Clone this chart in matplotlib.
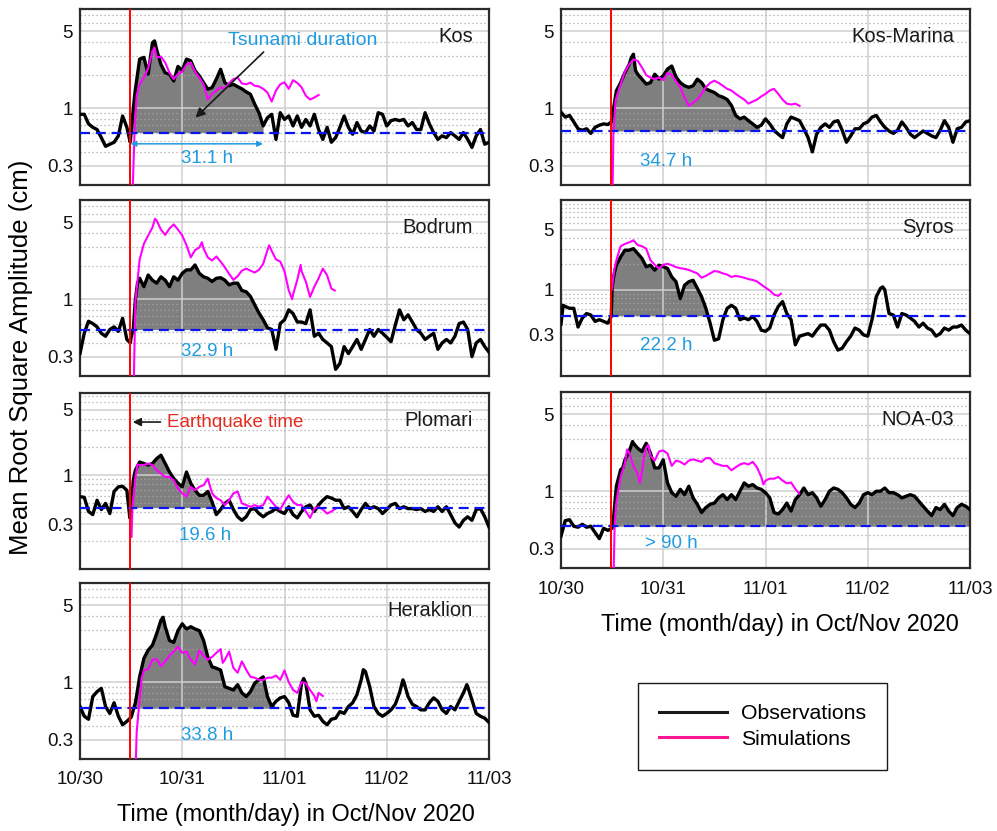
import numpy as np
import matplotlib
matplotlib.use("Agg")
import matplotlib.pyplot as plt
from matplotlib.lines import Line2D
from matplotlib.ticker import LogLocator, NullFormatter

plt.rcParams['font.family'] = ['Liberation Sans', 'DejaVu Sans']

# time axis: hours after 2020-10-30 00:00
EQ_TIME = 11.85
HOURS = list(range(97))
DAY_TICKS = [0, 24, 48, 72, 96]
DAY_LABELS = ['10/30', '10/31', '11/01', '11/02', '11/03']

# ---- observations (hourly values, cm) + extra points around sharp features ----
KOS_OBS = [0.88, 0.88, 0.72, 0.67, 0.64, 0.54, 0.45, 0.47, 0.49, 0.56, 0.85, 0.67,
           0.60, 1.49, 2.80, 2.90, 2.04, 3.95, 3.40, 2.50, 2.10, 2.04, 1.77, 2.40,
           2.20, 2.80, 2.70, 2.20, 1.97, 1.71, 1.49, 1.54, 1.84, 2.26, 1.71, 1.60,
           1.65, 1.57, 1.50, 1.41, 1.34, 1.09, 0.91, 0.69, 0.82, 0.88, 0.52, 0.91,
           0.79, 0.85, 0.69, 0.85, 0.67, 0.79, 0.69, 0.88, 0.64, 0.52, 0.67, 0.49,
           0.54, 0.67, 0.85, 0.67, 0.58, 0.74, 0.62, 0.60, 0.69, 0.62, 0.91, 0.88,
           0.69, 0.77, 0.79, 0.77, 0.79, 0.69, 0.74, 0.64, 0.64, 0.91, 0.72, 0.60,
           0.52, 0.56, 0.54, 0.60, 0.56, 0.52, 0.60, 0.52, 0.44, 0.56, 0.64, 0.47,
           0.49]
KOS_EXTRA_T = [11.8, 12.5, 17.5]
KOS_EXTRA_V = [0.49, 0.98, 4.1]

BODRUM_OBS = [0.32, 0.49, 0.63, 0.60, 0.56, 0.49, 0.46, 0.53, 0.56, 0.51, 0.67, 0.43,
              0.45, 0.99, 1.55, 1.30, 1.66, 1.49, 1.40, 1.60, 1.49, 1.30, 1.60, 1.49,
              1.72, 1.85, 1.85, 2.05, 1.72, 1.60, 1.55, 1.45, 1.55, 1.57, 1.49, 1.35,
              1.40, 1.40, 1.20, 1.17, 1.06, 0.89, 0.75, 0.65, 0.55, 0.53, 0.35, 0.60,
              0.65, 0.80, 0.74, 0.62, 0.62, 0.60, 0.80, 0.46, 0.49, 0.43, 0.40, 0.37,
              0.23, 0.26, 0.37, 0.32, 0.37, 0.43, 0.35, 0.43, 0.53, 0.46, 0.53, 0.49,
              0.45, 0.41, 0.58, 0.80, 0.65, 0.72, 0.62, 0.53, 0.49, 0.43, 0.46, 0.49,
              0.35, 0.40, 0.43, 0.40, 0.46, 0.60, 0.62, 0.53, 0.30, 0.40, 0.43, 0.37,
              0.33]
BODRUM_EXTRA_T = [11.8, 12.5, 13.5]
BODRUM_EXTRA_V = [0.40, 0.53, 1.40]

PLOMARI_OBS = [0.59, 0.58, 0.41, 0.38, 0.54, 0.43, 0.50, 0.39, 0.67, 0.75, 0.76, 0.69,
               0.40, 1.13, 1.38, 1.33, 1.28, 1.33, 1.50, 1.63, 1.33, 1.08, 0.92, 0.82,
               0.75, 1.08, 0.82, 0.69, 0.61, 0.61, 0.67, 0.52, 0.38, 0.43, 0.50, 0.54,
               0.43, 0.36, 0.33, 0.36, 0.43, 0.44, 0.39, 0.36, 0.39, 0.41, 0.44, 0.41,
               0.39, 0.46, 0.38, 0.35, 0.41, 0.46, 0.48, 0.41, 0.48, 0.54, 0.59, 0.57,
               0.54, 0.54, 0.44, 0.46, 0.41, 0.36, 0.43, 0.50, 0.44, 0.46, 0.44, 0.39,
               0.43, 0.48, 0.50, 0.44, 0.46, 0.44, 0.44, 0.43, 0.44, 0.41, 0.43, 0.41,
               0.46, 0.41, 0.46, 0.38, 0.31, 0.28, 0.33, 0.36, 0.33, 0.43, 0.44, 0.36,
               0.28]
PLOMARI_EXTRA_T = [11.7, 12.5]
PLOMARI_EXTRA_V = [0.35, 0.88]

HERAKLION_OBS = [0.60, 0.49, 0.46, 0.74, 0.82, 0.88, 0.60, 0.52, 0.65, 0.49, 0.41, 0.44,
                 0.48, 0.65, 1.12, 1.65, 1.96, 2.17, 2.77, 3.66, 3.20, 2.40, 2.30, 2.95,
                 3.40, 3.05, 3.20, 3.05, 2.95, 2.40, 1.70, 1.38, 1.34, 1.29, 0.91, 0.88,
                 0.85, 0.95, 0.80, 0.74, 0.82, 0.98, 1.05, 1.12, 0.74, 0.60, 0.67, 0.72,
                 0.74, 0.65, 0.50, 0.49, 0.98, 0.98, 0.56, 0.49, 0.50, 0.44, 0.41, 0.46,
                 0.47, 0.54, 0.52, 0.60, 0.65, 0.77, 1.05, 1.25, 0.91, 0.60, 0.52, 0.49,
                 0.52, 0.56, 0.63, 0.80, 1.01, 0.74, 0.63, 0.60, 0.56, 0.56, 0.65, 0.72,
                 0.67, 0.56, 0.52, 0.60, 0.56, 0.67, 0.80, 0.91, 0.69, 0.52, 0.49, 0.47,
                 0.43]
HERAKLION_EXTRA_T = [13.5, 19.5, 52.5, 66.5, 75.8, 90.8]
HERAKLION_EXTRA_V = [0.85, 3.9, 1.08, 1.30, 1.05, 0.95]

KOSMARINA_OBS = [0.92, 0.83, 0.86, 0.75, 0.65, 0.63, 0.65, 0.59, 0.67, 0.70, 0.72, 0.71,
                 0.82, 1.44, 1.71, 2.11, 2.50, 3.10, 2.04, 1.84, 1.66, 1.71, 2.04, 1.84,
                 1.97, 2.27, 2.42, 1.92, 1.71, 1.60, 1.55, 1.60, 1.84, 1.71, 1.50, 1.44,
                 1.39, 1.30, 1.26, 1.20, 1.06, 0.86, 0.80, 0.83, 0.77, 0.72, 0.67, 0.70,
                 0.80, 0.72, 0.63, 0.58, 0.54, 0.72, 0.83, 0.80, 0.77, 0.65, 0.54, 0.40,
                 0.58, 0.67, 0.72, 0.67, 0.75, 0.77, 0.63, 0.49, 0.56, 0.65, 0.65, 0.72,
                 0.75, 0.83, 0.86, 0.75, 0.67, 0.62, 0.59, 0.63, 0.75, 0.67, 0.58, 0.54,
                 0.58, 0.62, 0.59, 0.56, 0.54, 0.63, 0.77, 0.67, 0.49, 0.65, 0.67, 0.75,
                 0.77]
KOSMARINA_EXTRA_T = [11.8, 16.5, 17.5]
KOSMARINA_EXTRA_V = [0.75, 2.88, 2.20]

SYROS_OBS = [0.40, 0.64, 0.61, 0.61, 0.37, 0.47, 0.53, 0.51, 0.43, 0.45, 0.43, 0.41,
             1.08, 1.93, 2.41, 2.88, 2.88, 3.00, 2.64, 2.31, 1.85, 1.93, 1.69, 1.93,
             1.85, 1.77, 1.41, 1.24, 0.79, 1.13, 1.24, 1.29, 1.04, 0.83, 0.61, 0.41,
             0.26, 0.27, 0.45, 0.61, 0.66, 0.61, 0.45, 0.47, 0.45, 0.49, 0.43, 0.34,
             0.33, 0.36, 0.51, 0.64, 0.73, 0.53, 0.45, 0.23, 0.29, 0.30, 0.31, 0.29,
             0.34, 0.39, 0.39, 0.34, 0.25, 0.20, 0.21, 0.25, 0.29, 0.36, 0.34, 0.30,
             0.29, 0.45, 0.83, 1.04, 1.00, 0.53, 0.51, 0.37, 0.53, 0.51, 0.47, 0.43,
             0.37, 0.41, 0.36, 0.34, 0.29, 0.31, 0.36, 0.34, 0.37, 0.37, 0.39, 0.34,
             0.31]
SYROS_EXTRA_T = [0.5, 11.8, 12.5, 75.5]
SYROS_EXTRA_V = [0.66, 0.49, 1.55, 1.08]

NOA_OBS = [0.39, 0.54, 0.55, 0.48, 0.47, 0.50, 0.47, 0.48, 0.42, 0.37, 0.46, 0.44,
           0.46, 1.11, 1.57, 1.93, 2.30, 2.73, 2.46, 2.30, 2.73, 2.22, 1.63, 1.63,
           1.93, 1.19, 0.97, 0.90, 1.04, 0.93, 1.11, 0.87, 0.76, 0.64, 0.71, 0.76,
           0.78, 0.87, 0.93, 0.84, 0.93, 0.84, 1.00, 1.19, 1.11, 1.15, 1.07, 1.04,
           0.97, 0.87, 0.64, 0.62, 0.68, 0.78, 0.66, 0.84, 0.93, 1.07, 0.93, 0.97,
           0.87, 0.73, 0.84, 1.00, 1.07, 1.04, 0.97, 0.87, 0.76, 0.71, 0.78, 0.93,
           0.97, 0.93, 1.00, 1.00, 1.07, 0.97, 0.97, 0.93, 0.87, 0.90, 0.93, 0.90,
           0.81, 0.73, 0.66, 0.60, 0.71, 0.68, 0.76, 0.66, 0.60, 0.71, 0.76, 0.73,
           0.68]
NOA_EXTRA_T = [12.3, 14.5, 16.8]
NOA_EXTRA_V = [0.55, 1.63, 2.83]

# ---- simulations ----
KOS_SIM_T = [11.9, 12.4, 12.8, 13.3, 14, 15, 16, 17, 17.5, 18, 19, 20, 21, 22, 23, 24, 25,
             26, 27, 28, 29, 30, 31, 32, 33, 34, 35, 36, 37, 38, 39, 40, 41, 42, 43, 44,
             45, 46, 47, 48, 49, 50, 51, 52, 53, 54, 55, 56]
KOS_SIM_V = [0.05, 0.2, 0.6, 1.3, 1.65, 1.9, 2.3, 3.3, 3.55, 2.9, 2.95, 2.6, 2.1, 1.84,
             2.05, 2.15, 2.5, 2.6, 2.15, 1.9, 1.65, 1.2, 1.35, 1.45, 1.55, 1.5, 1.7, 1.84,
             1.9, 1.68, 1.65, 1.71, 1.6, 1.58, 1.5, 1.39, 1.15, 1.45, 1.65, 1.72, 1.5,
             1.8, 1.7, 1.55, 1.3, 1.2, 1.25, 1.32]

BODRUM_SIM_T = [12.5, 13, 14, 15, 16, 17, 17.6, 18, 19, 20, 21, 22, 23, 24, 25, 26, 27, 28,
                28.6, 29, 30, 31, 32, 33, 34, 35, 36, 37, 38, 39, 40, 41, 42, 43, 44, 44.4,
                45, 46, 47, 48, 49, 49.8, 50, 51, 51.8, 52, 53, 54, 55, 56, 57, 58, 59, 59.8]
BODRUM_SIM_V = [0.1, 0.95, 2.3, 3.2, 3.8, 4.5, 5.4, 5.2, 4.3, 3.85, 4.4, 4.8, 4.3, 3.8,
                3.1, 2.4, 2.8, 2.95, 3.3, 2.9, 2.4, 2.25, 2.45, 2.2, 1.95, 1.7, 1.5, 1.62,
                1.82, 1.9, 1.82, 1.75, 1.85, 2.1, 2.8, 3.1, 2.75, 2.3, 2.2, 1.8, 1.2, 1.0,
                1.1, 1.5, 2.05, 1.8, 1.45, 1.05, 1.3, 1.55, 1.9, 1.65, 1.25, 1.2]

PLOMARI_SIM_T = [12.1, 12.3, 13, 13.5, 14, 15, 16, 17, 18, 19, 20, 21, 22, 23, 24, 25, 26,
                 27, 28, 29, 30, 31, 32, 33, 34, 35, 36, 37, 38, 39, 40, 41, 42, 43, 44,
                 45, 46, 47, 48, 49, 50, 51, 52, 53, 54, 55, 56, 57, 58, 59, 60]
PLOMARI_SIM_V = [0.22, 0.45, 0.95, 1.3, 1.28, 1.28, 1.33, 1.28, 1.13, 1.04, 0.96, 0.96,
                 0.88, 0.72, 0.64, 0.59, 0.75, 0.69, 0.75, 0.78, 0.92, 0.64, 0.57, 0.54,
                 0.48, 0.54, 0.64, 0.67, 0.5, 0.48, 0.46, 0.48, 0.46, 0.48, 0.59, 0.52,
                 0.46, 0.43, 0.52, 0.61, 0.52, 0.48, 0.48, 0.41, 0.35, 0.44, 0.46, 0.43,
                 0.39, 0.41, 0.44]

HERAKLION_SIM_T = [12.9, 13.3, 14, 14.5, 15, 16, 17, 18, 19, 20, 21, 22, 23, 24, 25, 26,
                   27, 28, 29, 30, 31, 32, 33, 33.5, 34, 35, 36, 37, 38, 39, 40, 41, 42,
                   43, 44, 45, 46, 47, 48, 49, 50, 51, 52, 53, 54, 55, 55.5, 56, 57]
HERAKLION_SIM_V = [0.1, 0.35, 0.7, 1.1, 1.28, 1.32, 1.6, 1.62, 1.4, 1.55, 1.75, 1.9, 2.1,
                   1.85, 1.9, 1.6, 1.45, 1.95, 1.75, 1.6, 1.7, 1.85, 2.0, 1.5, 1.6, 1.9,
                   1.35, 1.22, 1.55, 1.3, 1.12, 1.1, 1.05, 1.05, 1.1, 1.1, 1.15, 1.05,
                   1.28, 1.0, 0.85, 0.8, 1.0, 0.98, 0.85, 0.75, 0.67, 0.8, 0.75]

KOSMARINA_SIM_T = [11.9, 12.3, 12.8, 13, 14, 15, 16, 17, 18, 19, 20, 21, 22, 23, 24, 25,
                   26, 27, 28, 29, 30, 31, 32, 33, 34, 35, 36, 37, 38, 39, 40, 41, 42, 43,
                   44, 45, 46, 47, 48, 49, 50, 51, 52, 53, 54, 55, 56]
KOSMARINA_SIM_V = [0.05, 0.6, 1.15, 1.25, 1.65, 2.15, 2.5, 2.78, 2.7, 2.35, 2.0, 1.9,
                   1.84, 1.9, 1.8, 2.1, 2.0, 1.75, 1.55, 1.25, 1.05, 1.12, 1.2, 1.35, 1.55,
                   1.7, 1.78, 1.7, 1.6, 1.5, 1.45, 1.35, 1.27, 1.2, 1.1, 1.15, 1.2, 1.28,
                   1.35, 1.45, 1.5, 1.35, 1.2, 1.1, 1.08, 1.1, 1.05]

SYROS_SIM_T = [11.9, 12.5, 13, 14, 15, 16, 17, 18, 19, 20, 21, 22, 23, 24, 25, 26, 27, 28,
               29, 30, 31, 32, 33, 34, 35, 36, 37, 38, 39, 40, 41, 42, 43, 44, 45, 46, 47,
               48, 49, 50, 51, 51.6]
SYROS_SIM_V = [1.0, 1.7, 2.2, 3.2, 3.4, 3.55, 3.75, 3.3, 3.2, 3.0, 2.2, 1.95, 1.77, 1.95,
               2.0, 1.93, 1.83, 1.78, 1.75, 1.7, 1.62, 1.55, 1.38, 1.45, 1.55, 1.65, 1.62,
               1.55, 1.5, 1.41, 1.45, 1.42, 1.38, 1.33, 1.3, 1.25, 1.15, 1.06, 0.98, 0.88,
               0.85, 0.9]

NOA_SIM_T = [12.2, 12.6, 13, 14, 15, 15.5, 16, 17, 18, 18.5, 19, 19.5, 20, 20.5, 21, 22,
             23, 24, 25, 26, 27, 28, 29, 30, 31, 32, 33, 34, 35, 36, 37, 38, 39, 40, 41,
             42, 43, 44, 45, 46, 47, 47.5, 48, 49, 50, 51, 52, 53, 54, 55, 55.9]
NOA_SIM_V = [0.1, 0.5, 0.8, 1.35, 1.8, 2.4, 2.25, 1.68, 1.45, 1.19, 1.5, 2.07, 2.5, 2.64,
             2.1, 1.9, 2.3, 2.35, 2.2, 1.7, 1.9, 1.85, 1.75, 1.9, 1.95, 1.9, 1.85, 2.0,
             2.0, 1.8, 1.75, 1.7, 1.7, 1.55, 1.65, 1.75, 1.8, 1.75, 1.85, 1.65, 1.35,
             1.15, 1.25, 1.3, 1.3, 1.35, 1.25, 1.18, 1.2, 1.05, 0.95]

# station: obs, extra t, extra v, sim t, sim v, threshold, duration (h), ylim, label
STATIONS = {
    'Kos': (KOS_OBS, KOS_EXTRA_T, KOS_EXTRA_V, KOS_SIM_T, KOS_SIM_V, 0.60, 31.1, (0.2, 8), '31.1 h'),
    'Bodrum': (BODRUM_OBS, BODRUM_EXTRA_T, BODRUM_EXTRA_V, BODRUM_SIM_T, BODRUM_SIM_V, 0.53, 32.9, (0.2, 8), '32.9 h'),
    'Plomari': (PLOMARI_OBS, PLOMARI_EXTRA_T, PLOMARI_EXTRA_V, PLOMARI_SIM_T, PLOMARI_SIM_V, 0.45, 19.6, (0.1, 7.5), '19.6 h'),
    'Heraklion': (HERAKLION_OBS, HERAKLION_EXTRA_T, HERAKLION_EXTRA_V, HERAKLION_SIM_T, HERAKLION_SIM_V, 0.58, 33.8, (0.2, 8), '33.8 h'),
    'Kos-Marina': (KOSMARINA_OBS, KOSMARINA_EXTRA_T, KOSMARINA_EXTRA_V, KOSMARINA_SIM_T, KOSMARINA_SIM_V, 0.62, 34.7, (0.2, 8), '34.7 h'),
    'Syros': (SYROS_OBS, SYROS_EXTRA_T, SYROS_EXTRA_V, SYROS_SIM_T, SYROS_SIM_V, 0.50, 22.2, (0.1, 11), '22.2 h'),
    'NOA-03': (NOA_OBS, NOA_EXTRA_T, NOA_EXTRA_V, NOA_SIM_T, NOA_SIM_V, 0.48, None, (0.2, 8), '> 90 h'),
}

W, H = 997, 831
BLUE_TXT = '#1f9be0'


def px_box(x0, y0, x1, y1):
    return [x0 / W, 1 - y1 / H, (x1 - x0) / W, (y1 - y0) / H]


# pixel boxes of the panels, and axes-fraction positions of the duration labels
LAYOUT = {
    'Kos': ((80, 9, 489, 185), (0.31, 0.148)),
    'Bodrum': ((80, 200, 489, 376), (0.31, 0.142)),
    'Plomari': ((80, 393, 489, 569), (0.306, 0.193)),
    'Heraklion': ((80, 583, 489, 759), (0.31, 0.131)),
    'Kos-Marina': ((561, 9, 970, 185), (0.257, 0.136)),
    'Syros': ((561, 200, 970, 376), (0.257, 0.176)),
    'NOA-03': ((561, 392, 970, 568), (0.271, 0.142)),
}
BOTTOM_PANELS = ['Heraklion', 'NOA-03']

fig = plt.figure(figsize=(W / 100, H / 100), dpi=100)
axes = {}

for name, (obs, ext_t, ext_v, sim_t, sim_v, thr, dur, ylim, dlabel) in STATIONS.items():
    box, lab_xy = LAYOUT[name]
    ax = fig.add_axes(px_box(*box))
    axes[name] = ax

    t = np.array(HOURS + ext_t, dtype=float)
    v = np.array(obs + ext_v, dtype=float)
    order = np.argsort(t)
    t, v = t[order], v[order]

    # shaded tsunami duration
    end = 96 if dur is None else EQ_TIME + dur
    tf = np.linspace(EQ_TIME, end, 800)
    vf = 10 ** np.interp(tf, t, np.log10(v))
    ax.fill_between(tf, vf, thr, where=vf >= thr, interpolate=True,
                    color='#7f7f7f', lw=0, zorder=1)

    ax.plot(t, v, color='black', lw=2.4, zorder=3, solid_joinstyle='round')
    ax.plot(sim_t, sim_v, color='#ff00ff', lw=1.5, zorder=4)
    ax.axhline(thr, color='#0a14f0', lw=1.6, ls=(0, (4.5, 2.6)), zorder=5)
    ax.axvline(EQ_TIME, color='#ff0000', lw=1.4, zorder=6)

    ax.set_yscale('log')
    ax.set_xlim(0, 96)
    ax.set_ylim(*ylim)
    ax.set_yticks([0.3, 1, 5])
    ax.set_yticklabels(['0.3', '1', '5'])
    ax.yaxis.set_minor_locator(LogLocator(base=10, subs=np.arange(1, 10)))
    ax.yaxis.set_minor_formatter(NullFormatter())
    ax.set_xticks(DAY_TICKS)
    if name in BOTTOM_PANELS:
        ax.set_xticklabels(DAY_LABELS)
    else:
        ax.set_xticklabels([])
    ax.grid(True, which='major', color='#cfcfcf', lw=1.1, ls='-')
    ax.grid(True, which='minor', axis='y', color='#a8a8a8', lw=0.9, ls=(0, (1, 2.2)))
    ax.tick_params(which='both', length=0, labelsize=13.5, colors='#111111')
    ax.tick_params(axis='y', pad=5)
    ax.tick_params(axis='x', pad=9)
    for sp in ax.spines.values():
        sp.set_color('#2b2b2b')
        sp.set_linewidth(1.6)

    ax.text(0.961, 0.845, name, transform=ax.transAxes, ha='right', va='center',
            fontsize=14.5, color='#1a1a1a', zorder=7)
    ax.text(lab_xy[0], lab_xy[1], dlabel, transform=ax.transAxes, ha='center',
            va='center', fontsize=13.5, color=BLUE_TXT, zorder=7)

# Kos annotations
ax = axes['Kos']
ax.text(52.2, 4.1, 'Tsunami duration', ha='center', va='center', fontsize=14,
        color=BLUE_TXT, zorder=7)
ax.annotate('', xy=(27.1, 0.82), xytext=(43.1, 3.25),
            arrowprops=dict(arrowstyle='-|>', color='#1a1a1a', lw=1.2,
                            mutation_scale=14, shrinkA=0, shrinkB=0), zorder=7)
ax.annotate('', xy=(EQ_TIME, 0.474), xytext=(EQ_TIME + 31.1, 0.474),
            arrowprops=dict(arrowstyle='<|-|>', color=BLUE_TXT, lw=1.1,
                            mutation_scale=8, shrinkA=0, shrinkB=0), zorder=7)

# Plomari annotation
ax = axes['Plomari']
ax.annotate('', xy=(0.129, 0.835), xytext=(0.197, 0.835), xycoords='axes fraction',
            textcoords='axes fraction',
            arrowprops=dict(arrowstyle='-|>', color='#1a1a1a', lw=1.2,
                            mutation_scale=12, shrinkA=0, shrinkB=0), zorder=7)
ax.text(0.213, 0.835, 'Earthquake time', transform=ax.transAxes, ha='left',
        va='center', fontsize=13.5, color='#e52b1e', zorder=7)

# axis labels
fig.text(0.021, 1 - 357 / H, 'Mean Root Square Amplitude (cm)', rotation=90,
         ha='center', va='center', fontsize=18.5)
fig.text(296 / W, 1 - 815 / H, 'Time (month/day) in Oct/Nov 2020', ha='center',
         va='center', fontsize=16.9)
fig.text(780 / W, 1 - 625 / H, 'Time (month/day) in Oct/Nov 2020', ha='center',
         va='center', fontsize=16.9)

# legend
handles = [Line2D([], [], color='#1a1a1a', lw=2.2), Line2D([], [], color='#ff1493', lw=2.2)]
leg = fig.legend(handles, ['Observations', 'Simulations'], loc='upper left',
                 bbox_to_anchor=(638 / W, 1 - 683 / H), borderaxespad=0,
                 fontsize=15.3, handlelength=3.2, handletextpad=0.63,
                 borderpad=1.0, labelspacing=0.3, fancybox=False, framealpha=1)
leg.get_frame().set_edgecolor('#1a1a1a')
leg.get_frame().set_linewidth(1.0)

fig.savefig('out.png', dpi=100)
